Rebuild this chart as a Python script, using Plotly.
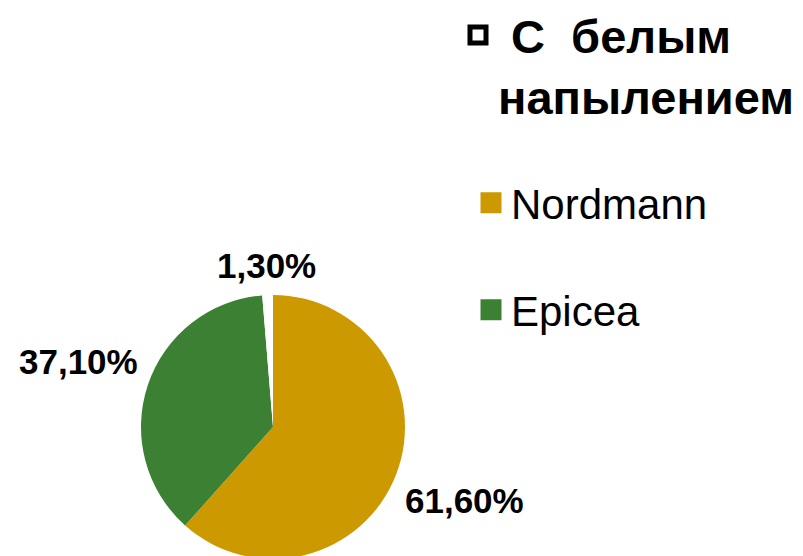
import math
import plotly.graph_objects as go

# Data
categories = ["Nordmann", "Epicea", "С  белым напылением"]
legend_names = ["Nordmann", "Epicea", "<b>\u00a0С\u00a0\u00a0белым<br>напылением</b>"]
shares = [61.6, 37.1, 1.3]
colors = ["#CC9A00", "#3C8034", "#FFFFFF"]
labels_text = [f"{v:.2f}%".replace(".", ",") for v in shares]

W, H = 803, 556
font_family = "Liberation Sans, Arial, sans-serif"

# Pie placement (pixels, figure coordinates)
PIE_CX, PIE_CY, PIE_R = 265, 419, 132
LABEL_SIZE = 35
LABEL_GAP = 12

fig = go.Figure()

fig.add_trace(go.Pie(
    labels=categories,
    values=shares,
    textinfo="none",
    marker=dict(colors=colors, line=dict(width=0)),
    sort=False,
    direction="clockwise",
    rotation=0,
    showlegend=False,
    hoverinfo="label+percent",
    domain=dict(x=[(PIE_CX - PIE_R) / W, (PIE_CX + PIE_R) / W],
                y=[(H - PIE_CY - PIE_R) / H, (H - PIE_CY + PIE_R) / H]),
))

# Percentage labels placed outside each slice, derived from the data angles
char_w = {",": 0.278, "%": 0.889}
def text_width(s, size):
    return sum(char_w.get(c, 0.556) for c in s) * size

total = sum(shares)
cum = 0.0
for v, t in zip(shares, labels_text):
    mid = (cum + v / 2) / total * 2 * math.pi
    cum += v
    dx, dy = math.sin(mid), math.cos(mid)  # dy up
    w, h = text_width(t, LABEL_SIZE), LABEL_SIZE * 0.9
    d = PIE_R + LABEL_GAP + abs(dx) * w / 2 + abs(dy) * h / 2
    px = PIE_CX + dx * d
    py = PIE_CY - dy * d
    fig.add_annotation(
        x=px / W, y=1 - py / H, xref="paper", yref="paper",
        text=f"<b>{t}</b>", showarrow=False,
        xanchor="center", yanchor="middle",
        font=dict(family=font_family, size=LABEL_SIZE, color="black"),
    )

# Legend entries (dummy traces for legend keys)
legend_order = [2, 0, 1]
legend_ids = ["legend", "legend2", "legend3"]
for lid, i in zip(legend_ids, legend_order):
    is_white = colors[i].upper() == "#FFFFFF"
    fig.add_trace(go.Scatter(
        x=[None], y=[None],
        mode="markers",
        name=legend_names[i],
        legend=lid,
        marker=dict(
            symbol="square",
            size=16,
            color=colors[i],
            line=dict(width=5, color="black" if is_white else colors[i]),
        ),
        showlegend=True,
    ))

def legend_style(size, **kw):
    return dict(
        font=dict(family=font_family, size=size, color="black"),
        bgcolor="rgba(0,0,0,0)",
        borderwidth=0,
        xanchor="left",
        yanchor="top",
        itemclick=False,
        itemdoubleclick=False,
        **kw,
    )

fig.update_layout(
    width=W,
    height=H,
    margin=dict(l=0, r=0, t=0, b=0, autoexpand=False),
    paper_bgcolor="white",
    plot_bgcolor="white",
    xaxis=dict(visible=False),
    yaxis=dict(visible=False),
    legend=legend_style(47, x=450 / W, y=1 + 10 / H, valign="top"),
    legend2=legend_style(42, x=463 / W, y=1 - 161 / H),
    legend3=legend_style(42, x=463 / W, y=1 - 268 / H),
)

fig.write_html("out.html")
